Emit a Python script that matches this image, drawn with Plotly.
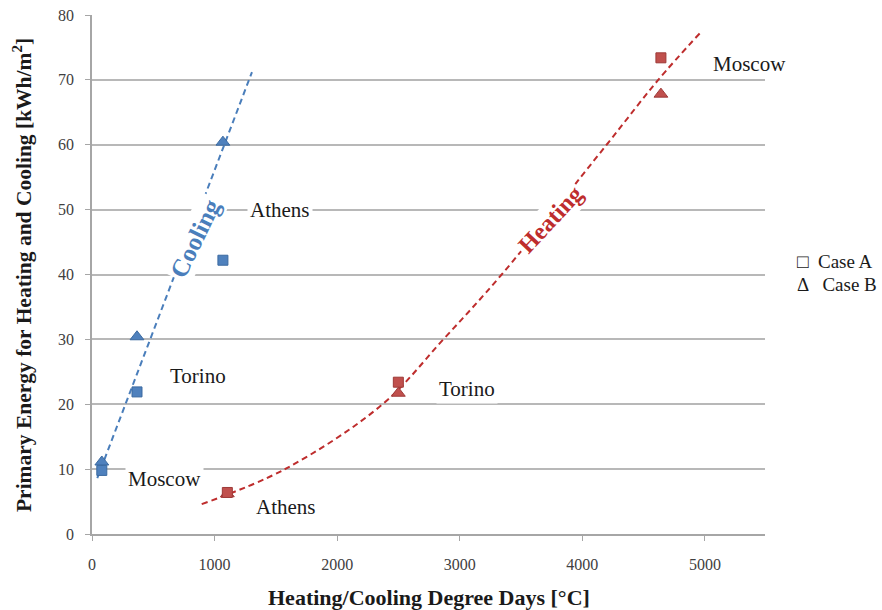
import plotly.graph_objects as go

# ---- data ----
cities = ["Moscow", "Torino", "Athens"]
cool_dd = [80, 367, 1068]
cool_caseA = [9.8, 21.9, 42.2]
cool_caseB = [11.1, 30.4, 60.4]

heat_cities = ["Athens", "Torino", "Moscow"]
heat_dd = [1104, 2499, 4641]
heat_caseA = [6.4, 23.4, 73.4]
heat_caseB = [6.2, 21.7, 67.8]

# trend lines
cool_trend_x = [43, 1305]
cool_trend_y = [8.6, 71.2]
heat_trend_x = [895, 1574, 2370, 2866, 3342, 4198, 4619, 4959]
heat_trend_y = [4.6, 10.0, 20.0, 30.0, 40.0, 60.0, 70.0, 77.2]

x_ticks = [0, 1000, 2000, 3000, 4000, 5000]
y_ticks = [0, 10, 20, 30, 40, 50, 60, 70, 80]

BLUE = "#4F81BD"
BLUE_D = "#3B6AA0"
BLUE_L = "#4A7EBB"
RED = "#C0504D"
RED_D = "#9E3A38"
RED_L = "#BE2D2D"
SERIF = "Liberation Serif, Times New Roman, serif"

fig = go.Figure()

fig.add_trace(go.Scatter(x=cool_trend_x, y=cool_trend_y, mode="lines",
                         line=dict(color=BLUE_L, width=2, dash="6px,4px"),
                         showlegend=False, hoverinfo="skip"))
fig.add_trace(go.Scatter(x=heat_trend_x, y=heat_trend_y, mode="lines",
                         line=dict(color=RED_L, width=2, dash="6px,4px", shape="spline", smoothing=1.0),
                         showlegend=False, hoverinfo="skip"))

fig.add_trace(go.Scatter(x=cool_dd, y=cool_caseB, mode="markers",
                         marker=dict(symbol="triangle-up", size=12, color=BLUE,
                                     line=dict(color=BLUE_D, width=1)),
                         showlegend=False))
fig.add_trace(go.Scatter(x=cool_dd, y=cool_caseA, mode="markers",
                         marker=dict(symbol="square", size=10, color=BLUE,
                                     line=dict(color=BLUE_D, width=1)),
                         showlegend=False))
fig.add_trace(go.Scatter(x=heat_dd, y=heat_caseB, mode="markers",
                         marker=dict(symbol="triangle-up", size=12, color=RED,
                                     line=dict(color=RED_D, width=1)),
                         showlegend=False))
fig.add_trace(go.Scatter(x=heat_dd, y=heat_caseA, mode="markers",
                         marker=dict(symbol="square", size=10, color=RED,
                                     line=dict(color=RED_D, width=1)),
                         showlegend=False))

label_font = dict(family=SERIF, size=21, color="#1a1a1a")
labels = [
    ("Athens", 1534, 49.9),
    ("Torino", 865, 24.4),
    ("Moscow", 588, 8.5),
    ("Athens", 1579, 4.2),
    ("Torino", 3060, 22.4),
    ("Moscow", 5365, 72.4),
]
for t, x, y in labels:
    fig.add_annotation(x=x, y=y, text=t, showarrow=False, font=label_font,
                       bgcolor="white", borderpad=2)

fig.add_annotation(x=840, y=45.6, text="<b>Cooling</b>", showarrow=False, textangle=-64,
                   font=dict(family=SERIF, size=25, color=BLUE_L), bgcolor="white", borderpad=2)
fig.add_annotation(x=3737, y=48.4, text="<b>Heating</b>", showarrow=False, textangle=-47,
                   font=dict(family=SERIF, size=24, color=RED_L), bgcolor="white", borderpad=2)

# legend text
fig.add_annotation(xref="paper", yref="paper", x=1.044, y=0.526, xanchor="left",
                   text="□  Case A", showarrow=False,
                   font=dict(family=SERIF, size=19, color="#1a1a1a"))
fig.add_annotation(xref="paper", yref="paper", x=1.044, y=0.480, xanchor="left",
                   text="Δ   Case B", showarrow=False,
                   font=dict(family=SERIF, size=19, color="#1a1a1a"))

# axis titles
fig.add_annotation(xref="paper", yref="paper", x=0.5, y=-0.1214, yanchor="middle",
                   text="<b>Heating/Cooling Degree Days [°C]</b>", showarrow=False,
                   font=dict(family=SERIF, size=22, color="#1a1a1a"))
fig.add_annotation(xref="paper", yref="paper", x=-0.104, y=0.499, xanchor="center", yanchor="middle",
                   textangle=-90,
                   text="<b>Primary Energy for Heating and Cooling [kWh/m<sup>2</sup>]</b>", showarrow=False,
                   font=dict(family=SERIF, size=21.5, color="#1a1a1a"))

fig.update_layout(
    width=882, height=610,
    margin=dict(l=92, r=117, t=15, b=76),
    plot_bgcolor="white", paper_bgcolor="white",
    showlegend=False,
    xaxis=dict(range=[0, 5490], tickvals=x_ticks, showgrid=False, zeroline=False,
               automargin=False,
               showline=True, linecolor="#a6a6a6", linewidth=1.5,
               ticks="outside", ticklen=5, tickcolor="#a6a6a6",
               ticklabelstandoff=10,
               tickfont=dict(family=SERIF, size=16, color="#404040")),
    yaxis=dict(range=[0, 80], tickvals=y_ticks, showgrid=True, gridcolor="#b8b8b8", gridwidth=1.5,
               automargin=False,
               zeroline=False, showline=True, linecolor="#a6a6a6", linewidth=1.5,
               ticks="outside", ticklen=5, tickcolor="#a6a6a6",
               ticklabelstandoff=8,
               tickfont=dict(family=SERIF, size=16, color="#404040")),
)

fig.write_html("out.html")
